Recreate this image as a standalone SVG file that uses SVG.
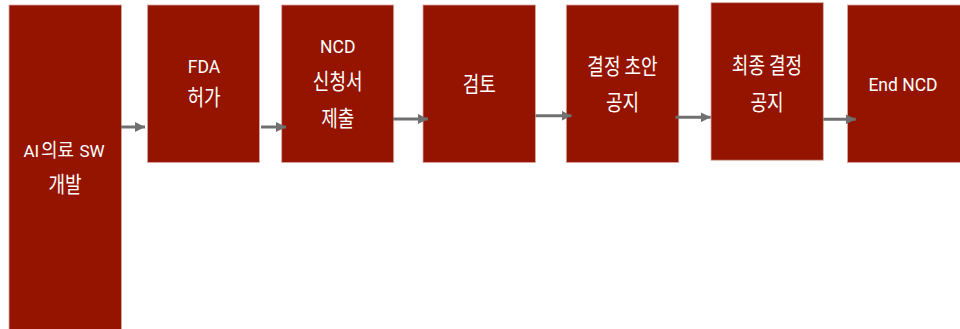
<svg xmlns="http://www.w3.org/2000/svg" width="960" height="329" viewBox="0 0 960 329">
<style>
.box{fill:#941400;stroke:#d8a8a4;stroke-width:0.8}
.t{fill:#ffffff;font-family:Roboto,"Noto Sans CJK KR","Noto Sans",sans-serif;font-size:17.5px;text-anchor:middle}
.k{fill:#ffffff;font-family:"Noto Sans CJK KR","Noto Sans",sans-serif;font-size:18px;text-anchor:middle}
.s{fill:#ffffff;font-family:Roboto,"Noto Sans",sans-serif;font-size:17px;text-anchor:start}
.c{stroke:#707070;stroke-width:3;fill:none}
</style>
<defs>
<marker id="ah" viewBox="0 0 10 10" refX="10" refY="5" markerWidth="10" markerHeight="10" markerUnits="userSpaceOnUse" orient="auto">
<path d="M0,0 L10,5 L0,10 Z" fill="#707070"/>
</marker>
</defs>
<rect width="960" height="329" fill="#ffffff"/>
<g id="n1"><rect class="box" x="9" y="5" width="112.5" height="330"/>
<text class="s" x="23.5" y="156.7">AI</text>
<text class="k" transform="translate(57.5,156.5) scale(1,1.05)">의료</text>
<text class="s" x="79.5" y="156.7">SW</text>
<text class="k" transform="translate(65,192) scale(1,1.2)">개발</text></g>
<g id="n2"><rect class="box" x="147.5" y="5" width="112" height="157.5"/><text class="t" x="204" y="72.5">FDA</text><text class="k" transform="translate(204,105.2) scale(1,1.2)">허가</text></g>
<g id="n3"><rect class="box" x="281.7" y="5" width="112" height="157.5"/><text class="t" x="337.7" y="53.3">NCD</text><text class="k" transform="translate(337.7,88.5) scale(1,1.2)">신청서</text><text class="k" transform="translate(337.7,125.8) scale(1,1.2)">제출</text></g>
<g id="n4"><rect class="box" x="423" y="5" width="112.5" height="157.5"/><text class="k" transform="translate(479.2,91.8) scale(1,1.2)">검토</text></g>
<g id="n5"><rect class="box" x="566.3" y="5" width="112.5" height="157.5"/><text class="k" transform="translate(622.5,73.5) scale(1,1.2)">결정 초안</text><text class="k" transform="translate(622.5,110.2) scale(1,1.2)">공지</text></g>
<g id="n6"><rect class="box" x="711" y="2.7" width="112.3" height="157.5"/><text class="k" transform="translate(767,72.5) scale(1,1.2)">최종 결정</text><text class="k" transform="translate(767,109.5) scale(1,1.2)">공지</text></g>
<g id="n7"><rect class="box" x="847.5" y="5" width="120" height="157.5"/><text class="t" x="903" y="90.5">End NCD</text></g>
<g id="connectors">
<line class="c" x1="121" y1="127" x2="145" y2="127" marker-end="url(#ah)"/>
<line class="c" x1="261" y1="127" x2="286" y2="127" marker-end="url(#ah)"/>
<line class="c" x1="393" y1="119" x2="428" y2="119" marker-end="url(#ah)"/>
<line class="c" x1="535.5" y1="115.7" x2="571.5" y2="115.7" marker-end="url(#ah)"/>
<line class="c" x1="675.5" y1="117.3" x2="710.7" y2="117.3" marker-end="url(#ah)"/>
<line class="c" x1="823.3" y1="119.3" x2="855.7" y2="119.3" marker-end="url(#ah)"/>
</g>
</svg>
